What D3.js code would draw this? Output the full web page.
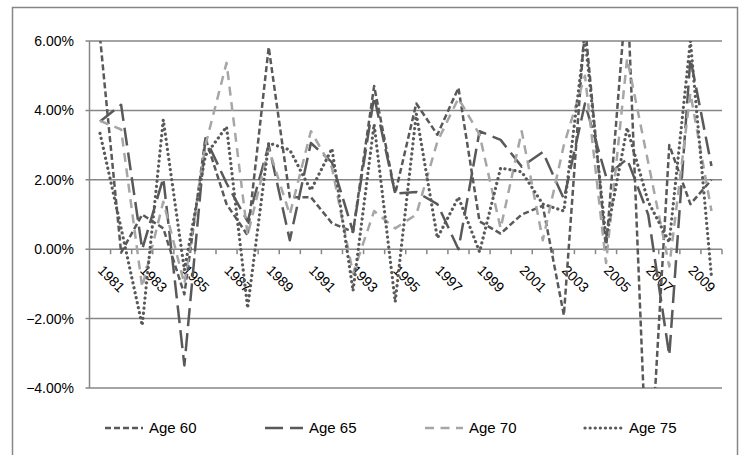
<!DOCTYPE html>
<html>
<head>
<meta charset="utf-8">
<script src="https://cdn.jsdelivr.net/npm/d3@7"></script>
<style>
  body { margin: 0; background: #fff; }
  text { font-family: "Liberation Sans", Arial, sans-serif; fill: #000; }
</style>
</head>
<body>
<svg id="chart" width="742" height="455"></svg>
<script>
// categories (years) and the four series, in percent
var years = [1981, 1982, 1983, 1984, 1985, 1986, 1987, 1988, 1989, 1990,
  1991, 1992, 1993, 1994, 1995, 1996, 1997, 1998, 1999, 2000,
  2001, 2002, 2003, 2004, 2005, 2006, 2007, 2008, 2009, 2010];
var yTicks = [-4, -2, 0, 2, 4, 6];
var seriesNames = ['Age 60', 'Age 65', 'Age 70', 'Age 75'];

var age60 = [6.1, -0.1, 1.0, 0.6, -1.3, 3.2, 1.3, 0.4, 5.82, 1.5,
  1.5, 0.75, 0.5, 4.7, 1.6, 4.2, 3.3, 4.65, 0.8, 0.45,
  1.0, 1.25, -1.9, 6.5, 0.0, 7.6, -7.5, 3.0, 1.3, 2.0];
var age65 = [3.68, 4.16, 0.0, 2.05, -3.35, 3.2, 1.9, 0.8, 3.0, 0.26,
  3.06, 2.5, 0.5, 4.4, 1.6, 1.65, 1.3, 0.0, 3.4, 3.15,
  2.38, 2.8, 1.45, 4.2, 2.1, 2.6, 1.0, -3.06, 5.5, 2.4];
var age70 = [3.7, 3.45, -1.1, 1.37, -1.0, 3.0, 5.37, 0.4, 2.9, 1.0,
  3.4, 2.35, -0.7, 1.1, 0.6, 1.0, 3.1, 4.35, 3.3, 0.6,
  3.4, 0.26, 3.0, 5.0, -0.4, 5.5, 2.5, -0.5, 4.5, 1.1];
var age75 = [3.34, 0.6, -2.2, 3.73, -0.6, 2.7, 3.53, -1.7, 3.06, 2.86,
  1.7, 2.9, -1.2, 3.6, -1.52, 3.9, 0.32, 1.5, -0.08, 2.34,
  2.23, 1.3, 1.1, 6.1, 0.3, 3.5, 1.37, 0.2, 6.0, -0.8];

var seriesValues = [age60, age65, age70, age75];
var colors = ['#595959', '#595959', '#a6a6a6', '#595959'];
var dashes = ['6 3', '18 7', '9 6.5', '0.1 5'];
var caps = ['butt', 'butt', 'butt', 'round'];
var widths = [2.5, 2.5, 2.5, 3.2];

drawChart();

function drawChart() {
  var plot = { left: 89.5, right: 722, top: 41, bottom: 388 };
  var svg = d3.select('#chart');

  // outer chart border
  svg.append('rect')
    .attr('x', 12.5).attr('y', 7.5)
    .attr('width', 725).attr('height', 470)
    .attr('fill', 'none')
    .attr('stroke', '#868686')
    .attr('stroke-width', 1.5);

  var x = d3.scaleBand().domain(years).range([plot.left, plot.right]).padding(0);
  var y = d3.scaleLinear().domain([-4, 6]).range([plot.bottom, plot.top]);

  // horizontal gridlines
  svg.append('g')
    .selectAll('line')
    .data(yTicks)
    .enter()
    .append('line')
    .attr('x1', plot.left - 4)
    .attr('x2', plot.right)
    .attr('y1', d => y(d))
    .attr('y2', d => y(d))
    .attr('stroke', '#868686')
    .attr('stroke-width', 1.5);

  // y axis line
  svg.append('line')
    .attr('x1', plot.left).attr('x2', plot.left)
    .attr('y1', plot.top).attr('y2', plot.bottom)
    .attr('stroke', '#868686')
    .attr('stroke-width', 1.5);

  // y labels
  svg.append('g')
    .selectAll('text')
    .data(yTicks)
    .enter()
    .append('text')
    .attr('x', 74)
    .attr('y', d => y(d))
    .attr('dy', '0.36em')
    .attr('text-anchor', 'end')
    .style('font-size', '14px')
    .text(d => d3.format('.2%')(d / 100));

  // category tick marks on the zero line (between categories)
  var bounds = years.map(d => x(d)).concat([plot.right]);
  svg.append('g')
    .selectAll('line')
    .data(bounds.slice(1))
    .enter()
    .append('line')
    .attr('x1', d => d).attr('x2', d => d)
    .attr('y1', y(0)).attr('y2', y(0) + 5)
    .attr('stroke', '#868686')
    .attr('stroke-width', 1.5);

  // year labels, every other one, rotated
  svg.append('g')
    .selectAll('text')
    .data(years.filter((d, i) => i % 2 === 0))
    .enter()
    .append('text')
    .attr('transform', d => 'translate(' + (x(d) + x.bandwidth() / 2 - 3) + ',' + (y(0) + 22) + ') rotate(45)')
    .style('font-size', '14px')
    .text(d => d);

  // series lines, clipped to plot area
  svg.append('clipPath').attr('id', 'plotclip')
    .append('rect')
    .attr('x', plot.left).attr('y', plot.top)
    .attr('width', plot.right - plot.left)
    .attr('height', plot.bottom - plot.top);

  var line = d3.line()
    .x((d, i) => x(years[i]) + x.bandwidth() / 2)
    .y(d => y(d));

  svg.append('g')
    .attr('clip-path', 'url(#plotclip)')
    .selectAll('path')
    .data(seriesValues)
    .enter()
    .append('path')
    .attr('d', d => line(d))
    .attr('fill', 'none')
    .attr('stroke', (d, i) => colors[i])
    .attr('stroke-width', (d, i) => widths[i])
    .attr('stroke-dasharray', (d, i) => dashes[i])
    .attr('stroke-linecap', (d, i) => caps[i])
    .attr('stroke-linejoin', 'round');

  // legend
  var legend = svg.append('g')
    .selectAll('g')
    .data(seriesNames)
    .enter()
    .append('g')
    .attr('transform', (d, i) => 'translate(' + (105 + i * 160) + ',428)');

  legend.append('line')
    .attr('x1', 0).attr('x2', 38)
    .attr('y1', 0).attr('y2', 0)
    .attr('stroke', (d, i) => colors[i])
    .attr('stroke-width', (d, i) => widths[i])
    .attr('stroke-dasharray', (d, i) => dashes[i])
    .attr('stroke-linecap', (d, i) => caps[i]);

  legend.append('text')
    .attr('x', 44)
    .attr('y', 0)
    .attr('dy', '0.36em')
    .style('font-size', '15px')
    .text(d => d);
}
</script>
</body>
</html>
